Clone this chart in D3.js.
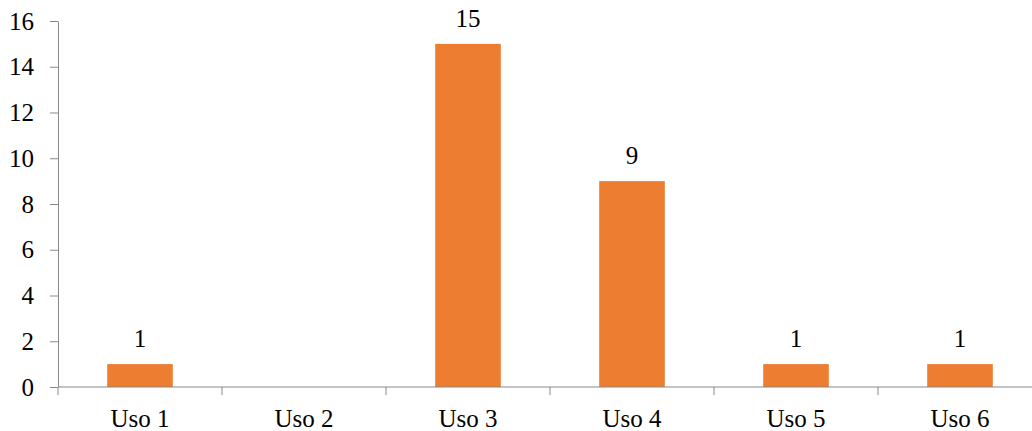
<!DOCTYPE html>
<html>
<head>
<meta charset="utf-8">
<script src="https://cdn.jsdelivr.net/npm/d3@7"></script>
<style>
  html, body { margin: 0; padding: 0; background: #fff; }
  svg { display: block; }
</style>
</head>
<body>
<svg id="chart" width="1032" height="431"></svg>
<script>
// Usage counts per category
const categories = ["Uso 1", "Uso 2", "Uso 3", "Uso 4", "Uso 5", "Uso 6"];
const counts = [1, 0, 15, 9, 1, 1];
const yTicks = [0, 2, 4, 6, 8, 10, 12, 14, 16];

(function draw() {
  const svg = d3.select("#chart");
  const plotLeft = 58, plotRight = 1042, plotTop = 21, plotBottom = 387;
  const axisColor = "#898989";
  const fontSize = 25;
  const fontFamily = "Liberation Serif";

  const x = d3.scaleBand().domain(categories).range([plotLeft, plotRight]).paddingInner(0.6).paddingOuter(0.3);
  const xBound = d3.scaleBand().domain(categories).range([plotLeft, plotRight]);
  const y = d3.scaleLinear().domain([0, 16]).range([plotBottom, plotTop]);

  const rows = categories.map((c, i) => ({ c, v: counts[i] })).filter(d => d.v > 0);

  // Bars
  svg.append("g").selectAll("rect")
    .data(rows)
    .join("rect")
    .attr("x", d => x(d.c))
    .attr("width", x.bandwidth())
    .attr("y", d => y(d.v))
    .attr("height", d => y(0) - y(d.v))
    .attr("fill", "#ED7D31");

  // Value labels
  svg.append("g").selectAll("text")
    .data(rows)
    .join("text")
    .attr("x", d => x(d.c) + x.bandwidth() / 2)
    .attr("y", d => y(d.v) - 17)
    .attr("text-anchor", "middle")
    .style("font-family", fontFamily)
    .style("font-size", fontSize + "px")
    .attr("fill", "#000")
    .text(d => d.v);

  // Y axis
  const yAxis = svg.append("g").attr("transform", `translate(${plotLeft},0)`)
    .call(d3.axisLeft(y).tickValues(yTicks).tickSize(8).tickPadding(16).tickSizeOuter(0));
  yAxis.select(".domain").attr("stroke", axisColor);
  yAxis.selectAll(".tick line").attr("stroke", axisColor);
  yAxis.selectAll(".tick text").attr("fill", "#000")
    .style("font-family", fontFamily).style("font-size", fontSize + "px");

  // X axis line with tick marks at category boundaries
  const xg = svg.append("g");
  xg.append("line")
    .attr("x1", plotLeft).attr("x2", plotRight)
    .attr("y1", y(0)).attr("y2", y(0))
    .attr("stroke", axisColor);
  xg.selectAll("line.bound")
    .data(categories.concat(["end"]))
    .join("line")
    .attr("class", "bound")
    .attr("x1", (d, i) => plotLeft + i * xBound.step())
    .attr("x2", (d, i) => plotLeft + i * xBound.step())
    .attr("y1", y(0)).attr("y2", y(0) + 8)
    .attr("stroke", axisColor);
  xg.selectAll("text")
    .data(categories)
    .join("text")
    .attr("x", d => xBound(d) + xBound.bandwidth() / 2)
    .attr("y", 427)
    .attr("text-anchor", "middle")
    .attr("fill", "#000")
    .style("font-family", fontFamily)
    .style("font-size", fontSize + "px")
    .text(d => d);
})();
</script>
</body>
</html>
